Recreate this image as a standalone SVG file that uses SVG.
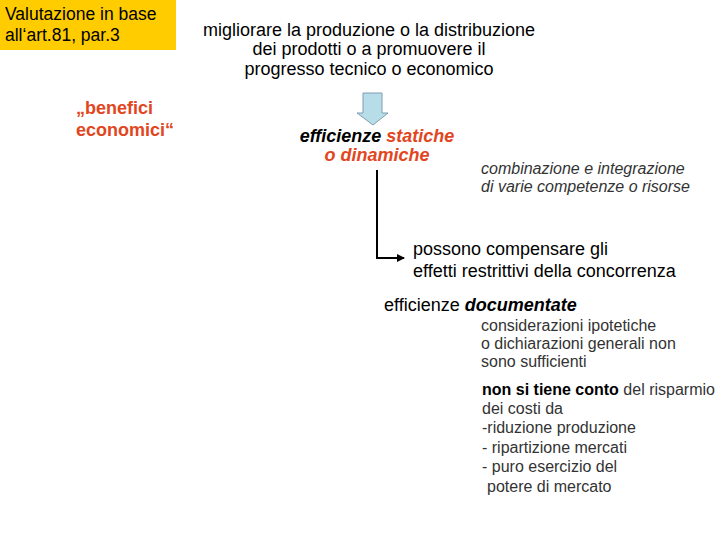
<svg xmlns="http://www.w3.org/2000/svg" width="720" height="540" viewBox="0 0 720 540">
<style>
text{font-family:"Liberation Sans",Arial,sans-serif;}
.t18{font-size:18px;fill:#000;}
.t17{font-size:17.5px;fill:#000;}
.red{fill:#E2461E;}
.g16{font-size:16px;fill:#333;}
.conn{stroke:#000;stroke-width:2;fill:none;}
</style>
<defs>
<marker id="ah" markerWidth="8" markerHeight="8" refX="7" refY="4" orient="auto" markerUnits="userSpaceOnUse">
<path d="M0,0 L8,4 L0,8 Z" fill="#000"/>
</marker>
</defs>
<rect width="720" height="540" fill="#fff"/>
<g id="title">
<rect x="0" y="0" width="176" height="50" fill="#FFCC00"/>
<text class="t17" x="5" y="20">Valutazione in base</text>
<text class="t17" x="5" y="41">all‘art.81, par.3</text>
</g>
<g id="benefici">
<text class="t18 red" x="76" y="114" font-weight="bold">„benefici</text>
<text class="t18 red" x="76" y="136" font-weight="bold">economici“</text>
</g>
<g id="goal">
<text class="t18" x="369" y="36" text-anchor="middle">migliorare la produzione o la distribuzione</text>
<text class="t18" x="369" y="55" text-anchor="middle">dei prodotti o a promuovere il</text>
<text class="t18" x="369" y="75" text-anchor="middle">progresso tecnico o economico</text>
</g>
<g id="blockarrow">
<path d="M363,93 L382,93 L382,113 L388,113 L373,125 L357,113 L363,113 Z" fill="#B7DDE8" stroke="#7F9DB0" stroke-width="1"/>
</g>
<g id="efficienze">
<text class="t18" x="377" y="142" text-anchor="middle" font-weight="bold" font-style="italic">efficienze <tspan class="red">statiche</tspan></text>
<text class="t18 red" x="377" y="161" text-anchor="middle" font-weight="bold" font-style="italic">o dinamiche</text>
</g>
<g id="combinazione">
<text class="g16" x="481" y="174" font-style="italic">combinazione e integrazione</text>
<text class="g16" x="481" y="192" font-style="italic">di varie competenze o risorse</text>
</g>
<g id="connectors">
<path class="conn" d="M377,170 L377,258 L404,258" marker-end="url(#ah)"/>
</g>
<g id="compensare">
<text class="t18" x="413" y="255">possono compensare gli</text>
<text class="t18" x="413" y="277">effetti restrittivi della concorrenza</text>
</g>
<g id="documentate">
<text class="t18" x="384" y="311">efficienze <tspan font-weight="bold" font-style="italic">documentate</tspan></text>
</g>
<g id="considerazioni">
<text class="g16" x="481" y="331">considerazioni ipotetiche</text>
<text class="g16" x="481" y="349">o dichiarazioni generali non</text>
<text class="g16" x="481" y="367">sono sufficienti</text>
</g>
<g id="risparmio">
<text class="g16" x="482" y="395"><tspan font-weight="bold" fill="#000">non si tiene conto</tspan> del risparmio</text>
<text class="g16" x="482" y="414">dei costi da</text>
<text class="g16" x="482" y="433">-riduzione produzione</text>
<text class="g16" x="482" y="453">- ripartizione mercati</text>
<text class="g16" x="482" y="472">- puro esercizio del</text>
<text class="g16" x="487" y="492">potere di mercato</text>
</g>
</svg>
